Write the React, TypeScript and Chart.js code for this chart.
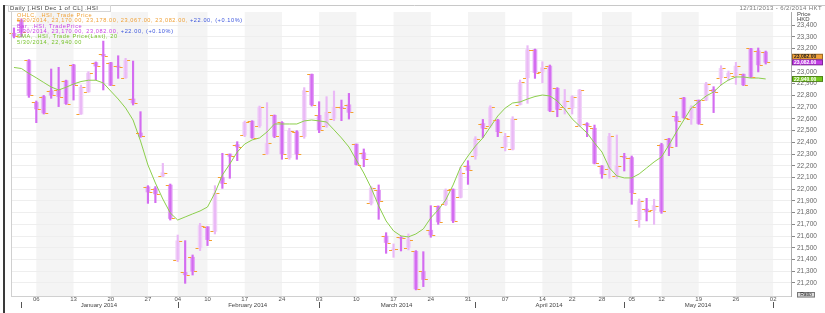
import React, { useEffect, useRef } from "react";
import { Chart, registerables } from "chart.js";

Chart.register(...registerables);

// Trading days (HK), last one is a future tick only
const dates = [
  "2013-12-31",
  "2014-01-02","2014-01-03","2014-01-06","2014-01-07","2014-01-08","2014-01-09","2014-01-10",
  "2014-01-13","2014-01-14","2014-01-15","2014-01-16","2014-01-17","2014-01-20","2014-01-21",
  "2014-01-22","2014-01-23","2014-01-24","2014-01-27","2014-01-28","2014-01-29","2014-01-30",
  "2014-02-04","2014-02-05","2014-02-06","2014-02-07","2014-02-10","2014-02-11","2014-02-12",
  "2014-02-13","2014-02-14","2014-02-17","2014-02-18","2014-02-19","2014-02-20","2014-02-21",
  "2014-02-24","2014-02-25","2014-02-26","2014-02-27","2014-02-28",
  "2014-03-03","2014-03-04","2014-03-05","2014-03-06","2014-03-07","2014-03-10","2014-03-11",
  "2014-03-12","2014-03-13","2014-03-14","2014-03-17","2014-03-18","2014-03-19","2014-03-20",
  "2014-03-21","2014-03-24","2014-03-25","2014-03-26","2014-03-27","2014-03-28","2014-03-31",
  "2014-04-01","2014-04-02","2014-04-03","2014-04-04","2014-04-07","2014-04-08","2014-04-09",
  "2014-04-10","2014-04-11","2014-04-14","2014-04-15","2014-04-16","2014-04-17","2014-04-22",
  "2014-04-23","2014-04-24","2014-04-25","2014-04-28","2014-04-29","2014-04-30",
  "2014-05-02","2014-05-05","2014-05-07","2014-05-08","2014-05-09","2014-05-12","2014-05-13",
  "2014-05-14","2014-05-15","2014-05-16","2014-05-19","2014-05-20","2014-05-21","2014-05-22",
  "2014-05-23","2014-05-26","2014-05-27","2014-05-28","2014-05-29","2014-05-30",
  "2014-06-02",
];

const opens = [
  23330,
  23440,23100,22740,22790,22840,22850,22925,23060,22640,22830,23080,23150,23080,23050,
  22950,22770,22480,22020,22005,22112,22035,
  21400,21290,21420,21500,21680,21640,22100,22300,22380,22460,22580,22540,22300,22630,
  22570,22270,22490,22450,22980,
  22630,22540,22600,22700,22720,22385,22310,21880,21990,21600,21480,21590,21500,21470,
  21300,21650,21855,21870,22000,21930,22200,
  22285,22560,22540,22590,22360,22340,22720,22950,23190,23000,23050,22860,22700,22690,
  22540,22560,22520,22200,22170,22110,
  22280,22270,21740,21830,21820,22380,22430,22620,22780,22600,22760,22760,22850,22950,
  22960,22965,22980,23200,23180,23170,
];
const highs = [
  23375,
  23452,23105,22752,22800,23025,23039,22930,23065,22888,23002,23085,23263,23082,23138,
  23116,23093,22661,22030,22022,22220,22044,
  21609,21561,21439,21709,21680,22030,22306,22300,22405,22581,22584,22709,22738,22633,
  22576,22519,22499,22866,22982,
  22746,22789,22837,22760,22817,22385,22343,22022,22036,21629,21533,21595,21618,21476,
  21467,21859,21857,22002,22002,22186,22243,
  22448,22595,22712,22596,22476,22618,22931,23224,23195,23087,23059,22866,22851,22797,
  22851,22567,22547,22201,22476,22462,
  22306,22283,21916,21922,21914,22391,22434,22661,22783,22712,22760,22911,22874,23053,
  23008,23082,22982,23201,23204,23178,
];
const lows = [
  23290,
  23300,22783,22567,22641,22775,22704,22723,22760,22638,22826,22931,22846,22883,22945,
  22945,22718,22442,21879,21885,22107,21737,
  21382,21197,21268,21476,21519,21618,22007,22093,22243,22448,22434,22527,22297,22439,
  22255,22255,22255,22434,22709,
  22482,22527,22584,22584,22598,22206,22192,21865,21743,21453,21419,21473,21482,21141,
  21169,21590,21700,21860,21715,21925,22041,
  22255,22440,22527,22448,22326,22334,22718,22732,22945,22908,22661,22618,22641,22641,
  22533,22448,22215,22093,22093,22093,
  22155,21871,21675,21729,21700,21794,22286,22363,22604,22553,22553,22755,22653,22888,
  22925,22894,22883,22951,23000,23067,
];
const closes = [
  23306,
  23340,22800,22684,22650,22800,22790,22730,22890,22870,22990,23050,23136,22885,23040,
  23100,22735,22450,21976,21960,22141,21750,
  21560,21270,21300,21690,21570,21965,22050,22280,22360,22570,22440,22700,22390,22450,
  22300,22500,22300,22840,22720,
  22505,22655,22700,22690,22655,22210,22260,22010,21900,21545,21490,21580,21570,21150,
  21230,21610,21720,21990,21730,22140,22160,
  22430,22520,22700,22490,22450,22600,22910,23190,22995,23035,22670,22680,22755,22790,
  22845,22540,22220,22130,22450,22200,
  22270,21970,21895,21810,21860,21810,22360,22580,22610,22700,22560,22900,22830,23030,
  22990,23050,22890,22960,23060,23082,
];
// 20-day moving average
const sma20 = [
  23038,23029,22987,22950,22910,22871,22846,22869,22897,22918,
  22929,22929,22906,22837,22769,22692,22590,22411,22206,22053,
  21916,21797,21737,21763,21789,21814,21848,21968,22121,22215,
  22317,22385,22420,22437,22488,22556,22556,22556,22556,22582,
  22590,22582,22573,22506,22437,22360,22249,22138,22010,21857,
  21729,21644,21601,21593,21618,21661,21755,21823,21908,22036,
  22189,22283,22368,22437,22531,22624,22692,22735,22744,22769,
  22790,22803,22795,22752,22684,22599,22539,22479,22394,22317,
  22181,22113,22096,22096,22130,22181,22232,22275,22377,22488,
  22590,22692,22744,22795,22829,22889,22931,22957,22957,22948,
  22948,22940,
];

const yTicks = [
  21200,21300,21400,21500,21600,21700,21800,21900,22000,22100,22200,22300,
  22400,22500,22600,22700,22800,22900,23000,23100,23200,23300,23400,
];
const monthLabels = ["January 2014", "February 2014", "March 2014", "April 2014", "May 2014"];

const titleText = "Daily [.HSI Dec 1 of CL] .HSI";
const rangeText = "12/31/2013 - 6/2/2014 HKT";
const ohlcName = "OHLC, .HSI, Trade Price";
const barName = "Bar, .HSI, TradePrice";
const smaName = "SMA, .HSI, Trade Price(Last), 20";

const FONT = "'Liberation Sans', Arial, sans-serif";

const fmt2 = (v: number) =>
  v.toLocaleString("en-US", { minimumFractionDigits: 2, maximumFractionDigits: 2 });
const fmtDate = (s: string) => {
  const [y, m, d] = s.split("-");
  return `${parseInt(m, 10)}/${parseInt(d, 10)}/${y}`;
};

export default function App() {
  const ref = useRef<HTMLCanvasElement | null>(null);

  useEffect(() => {
    document.body.style.margin = "0";
    const canvas = ref.current;
    if (!canvas) return;
    const n = opens.length;
    const idx = opens.map((_, i) => i);
    const isUp = (i: number) => closes[i] >= opens[i];

    const dow = (s: string) => new Date(s + "T00:00:00Z").getUTCDay();
    const weekStarts: number[] = [];
    const monthStarts: number[] = [];
    for (let i = 1; i < dates.length; i++) {
      const diff = (Date.parse(dates[i]) - Date.parse(dates[i - 1])) / 86400000;
      if (dow(dates[i]) <= dow(dates[i - 1]) || diff >= 7) weekStarts.push(i);
      if (dates[i].slice(5, 7) !== dates[i - 1].slice(5, 7)) monthStarts.push(i);
    }

    const last = n - 1;
    const chg = closes[last] - closes[last - 1];
    const pct = (chg / closes[last - 1]) * 100;
    const sign = (v: number) => (v >= 0 ? "+" : "");
    const chgText = `${sign(chg)}${fmt2(chg)}, (${sign(pct)}${pct.toFixed(2)}%)`;

    const decor = {
      id: "decor",
      beforeDraw(chart: any) {
        const { ctx, chartArea: a, scales } = chart;
        const x = scales.x;
        ctx.save();
        ctx.fillStyle = "#ffffff";
        ctx.fillRect(0, 0, chart.width, chart.height);
        ctx.fillStyle = "#f4f4f4";
        for (let k = 0; k < weekStarts.length; k += 2) {
          const x0 = Math.max(a.left, x.getPixelForValue(weekStarts[k]));
          const x1 =
            k + 1 < weekStarts.length
              ? Math.min(a.right, x.getPixelForValue(weekStarts[k + 1]))
              : a.right;
          if (x1 > x0) ctx.fillRect(x0, a.top, x1 - x0, a.bottom - a.top);
        }
        ctx.restore();
      },
      afterDatasetsDraw(chart: any) {
        const { ctx, scales } = chart;
        const x = scales.x;
        const y = scales.y;
        ctx.save();
        ctx.strokeStyle = "#f5a12e";
        ctx.lineWidth = 1;
        ctx.beginPath();
        for (let i = 0; i < n; i++) {
          const px = x.getPixelForValue(i);
          const yo = Math.round(y.getPixelForValue(opens[i])) + 0.5;
          const yc = Math.round(y.getPixelForValue(closes[i])) + 0.5;
          ctx.moveTo(px - 4.5, yo);
          ctx.lineTo(px - 1.5, yo);
          ctx.moveTo(px + 1.5, yc);
          ctx.lineTo(px + 4.5, yc);
        }
        ctx.stroke();
        ctx.restore();
      },
      afterDraw(chart: any) {
        const { ctx, chartArea: a, scales } = chart;
        const x = scales.x;
        const y = scales.y;
        ctx.save();

        // frame
        ctx.strokeStyle = "#c8c8c8";
        ctx.lineWidth = 1;
        ctx.beginPath();
        ctx.moveTo(4, 5.5);
        ctx.lineTo(825, 5.5);
        ctx.stroke();
        ctx.strokeStyle = "#d0d0d0";
        ctx.beginPath();
        ctx.moveTo(a.left + 0.5, a.top);
        ctx.lineTo(a.left + 0.5, a.bottom);
        ctx.moveTo(a.left, a.bottom + 0.5);
        ctx.lineTo(a.right, a.bottom + 0.5);
        ctx.stroke();
        ctx.strokeStyle = "#3a3a3a";
        ctx.lineWidth = 2;
        ctx.beginPath();
        ctx.moveTo(4, 5);
        ctx.lineTo(4, 313);
        ctx.stroke();

        // title
        ctx.textBaseline = "middle";
        ctx.textAlign = "left";
        ctx.font = `6px ${FONT}`;
        (ctx as any).letterSpacing = "0.4px";
        ctx.strokeStyle = "#d6d6d6";
        ctx.lineWidth = 1;
        ctx.strokeRect(8.5, 5.5, 102, 6);
        ctx.fillStyle = "#3c3c3c";
        ctx.fillText(titleText, 10, 8.7);

        // top right range
        ctx.textAlign = "right";
        ctx.fillStyle = "#777";
        ctx.fillText(rangeText, 822, 8);

        // legend
        ctx.textAlign = "left";
        ctx.font = `5.6px ${FONT}`;
        (ctx as any).letterSpacing = "0.6px";
        const lastDate = fmtDate(dates[last]);
        const lines: [string, string][][] = [
          [[ohlcName, "#f0a035"]],
          [
            [`${lastDate}, ${fmt2(opens[last])}, ${fmt2(highs[last])}, ${fmt2(lows[last])}, ${fmt2(closes[last])}, `, "#f0a035"],
            [chgText, "#3b55dd"],
          ],
          [[barName, "#c93fe6"]],
          [
            [`${lastDate}, ${fmt2(opens[last])}, ${fmt2(closes[last])}, `, "#c93fe6"],
            [chgText, "#3b55dd"],
          ],
          [[smaName, "#76c22a"]],
          [[`${lastDate}, ${fmt2(sma20[last])}`, "#76c22a"]],
        ];
        const ly = [15.2, 20.6, 26, 31.3, 36.7, 42];
        lines.forEach((parts, li) => {
          let cx = 17;
          parts.forEach(([t, c]) => {
            ctx.fillStyle = c;
            ctx.fillText(t, cx, ly[li]);
            cx += ctx.measureText(t).width;
          });
        });
        (ctx as any).letterSpacing = "0px";

        // axis header
        ctx.font = `6px ${FONT}`;
        ctx.fillStyle = "#444";
        ctx.fillText("Price", 797, 14);
        ctx.fillText("HKD", 797, 19.6);

        // x tick labels
        ctx.font = `6px ${FONT}`;
        ctx.textAlign = "center";
        ctx.fillStyle = "#555";
        weekStarts.forEach((i) => {
          const px = x.getPixelForValue(i);
          if (px >= a.left && px <= a.right) ctx.fillText(dates[i].slice(8, 10), px, 299.8);
        });
        // month labels
        ctx.fillStyle = "#444";
        monthLabels.forEach((_, m) => {
          const mm = String(m + 1).padStart(2, "0");
          const inMonth = idx.filter((i) => dates[i].slice(0, 4) === "2014" && dates[i].slice(5, 7) === mm);
          if (!inMonth.length) return;
          const mid = (inMonth[0] + inMonth[inMonth.length - 1]) / 2 + 0.4;
          ctx.fillText(monthLabels[m], x.getPixelForValue(mid), 305);
        });
        // month markers
        ctx.strokeStyle = "#555";
        ctx.lineWidth = 1;
        ctx.beginPath();
        monthStarts.forEach((i) => {
          const px = Math.round(x.getPixelForValue(i)) + 0.5;
          ctx.moveTo(px, 302);
          ctx.lineTo(px, 308);
        });
        ctx.stroke();

        // value boxes
        const box = (cy: number, bg: string, fg: string, text: string) => {
          ctx.fillStyle = bg;
          ctx.fillRect(792, cy - 2.9, 31, 5.8);
          ctx.strokeStyle = "rgba(0,0,0,0.35)";
          ctx.strokeRect(792.5, cy - 2.4, 30, 5);
          ctx.fillStyle = fg;
          ctx.font = `bold 5px ${FONT}`;
          ctx.textAlign = "left";
          ctx.fillText(text, 794, cy + 0.2);
        };
        const yc = y.getPixelForValue(closes[last]);
        box(y.getPixelForValue(sma20[last]), "#74c81e", "#ffffff", fmt2(sma20[last]));
        box(yc - 5.6, "#f2a23a", "#222222", fmt2(closes[last]));
        box(yc, "#c23ce6", "#ffffff", fmt2(closes[last]));

        // Ratio button
        ctx.fillStyle = "#dddddd";
        ctx.fillRect(797, 292, 18, 5.5);
        ctx.strokeStyle = "#777";
        ctx.strokeRect(797.5, 292.5, 17, 4.5);
        ctx.fillStyle = "#222";
        ctx.font = `5px ${FONT}`;
        ctx.textAlign = "center";
        ctx.fillText("Ratio", 806, 294.9);

        ctx.restore();
      },
    };

    const chart = new Chart(canvas, {
      type: "bar",
      data: {
        datasets: [
          {
            type: "line",
            label: "SMA 20",
            data: idx.map((i) => ({ x: i, y: sma20[i] })),
            borderColor: "#8ccf4c",
            borderWidth: 1,
            pointRadius: 0,
            tension: 0,
            order: 0,
          } as any,
          {
            type: "bar",
            label: "High-Low",
            data: idx.map((i) => ({ x: i, y: [lows[i], highs[i]] })),
            backgroundColor: idx.map((i) => (isUp(i) ? "#eab9f6" : "#d46cf1")),
            barThickness: 1.5,
            grouped: false,
            order: 1,
          } as any,
          {
            type: "bar",
            label: "Open-Close",
            data: idx.map((i) => ({ x: i, y: [opens[i], closes[i]] })),
            backgroundColor: idx.map((i) => (isUp(i) ? "#f1d3f8" : "#e3a3f5")),
            barThickness: 4,
            grouped: false,
            order: 2,
          } as any,
        ],
      },
      options: {
        responsive: false,
        animation: false,
        devicePixelRatio: 1,
        layout: { padding: { left: 11, right: 0, top: 12, bottom: 17 } },
        plugins: { legend: { display: false }, tooltip: { enabled: false } },
        scales: {
          x: {
            type: "linear",
            min: -0.4,
            max: 104.4,
            display: false,
            offset: false,
          },
          y: {
            position: "right",
            min: 21089,
            max: 23511,
            afterBuildTicks: (s: any) => {
              s.ticks = yTicks.map((v) => ({ value: v }));
            },
            afterFit: (s: any) => {
              s.width = 34;
            },
            ticks: {
              autoSkip: false,
              font: { size: 6.5, family: FONT },
              color: "#666",
              padding: 2,
              callback: (v: any) => Number(v).toLocaleString("en-US"),
            },
            grid: { color: "#eeeeee", tickLength: 4, tickColor: "#888", drawTicks: true },
            border: { color: "#aaaaaa" },
          },
        },
      } as any,
      plugins: [decor],
    });

    return () => chart.destroy();
  }, []);

  return (
    <canvas
      ref={ref}
      width={825}
      height={313}
      style={{ display: "block", width: 825, height: 313 }}
    />
  );
}
